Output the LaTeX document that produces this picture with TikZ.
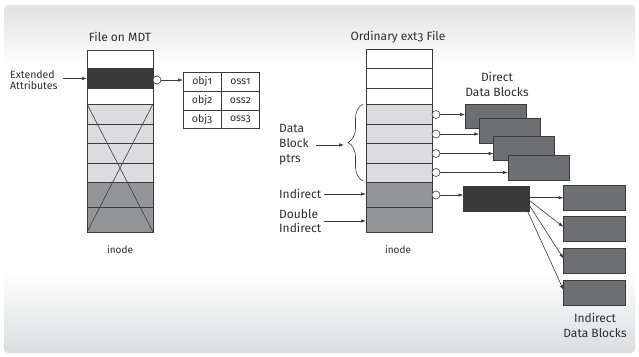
\documentclass[tikz,border=0pt]{standalone}
\usepackage{fontspec}
\setmainfont{Fira Sans}[Numbers=OldStyle]
\usetikzlibrary{arrows.meta,decorations.pathreplacing}
\definecolor{linec}{HTML}{3A3A3A}
\definecolor{txtc}{HTML}{2E2E2E}
\definecolor{lightrow}{HTML}{DCDCDE}
\definecolor{midrow}{HTML}{949598}
\definecolor{darkblk}{HTML}{3A3A3A}
\definecolor{blockc}{HTML}{6E6F72}
\definecolor{bgtop}{HTML}{E2E2E2}
\definecolor{bgbot}{HTML}{DCDDDF}
\pgfdeclareverticalshading{panel}{100bp}{color(0bp)=(bgbot); color(25bp)=(bgbot); color(37bp)=(white); color(66bp)=(white); color(75bp)=(bgtop); color(100bp)=(bgtop)}
\begin{document}
\begin{tikzpicture}[x=1pt,y=-1pt,
  cell/.style={draw=linec, line width=0.5pt, anchor=north west, inner sep=0pt, outer sep=0pt, minimum width=66pt},
  dot/.style={circle, draw=linec, fill=white, minimum size=8pt, inner sep=0pt, line width=0.6pt},
  conn/.style={-{Latex[length=5pt,width=3.5pt]}, line width=0.6pt, draw=linec},
  tcell/.style={draw=linec, line width=0.6pt, anchor=north west, inner sep=0pt, outer sep=0pt, minimum width=38.3pt, minimum height=18.9pt, font=\fontsize{10.5}{12}\selectfont, text=txtc},
  dblk/.style={draw=linec, fill=blockc, line width=0.6pt, anchor=north west, inner sep=0pt, outer sep=0pt, minimum width=61pt, minimum height=24.5pt},
  lbl/.style={inner sep=0pt, text=txtc, font=\fontsize{12}{15}\selectfont},
  smlbl/.style={inner sep=0pt, text=txtc, font=\fontsize{10.5}{10.5}\selectfont}]
\useasboundingbox (0,0) rectangle (639,356);
\shade[shading=panel, rounded corners=4pt] (4,5) rectangle (635,353);

% ---------- left inode (File on MDT)
\node[cell,fill=white,minimum height=18pt] (la) at (87,50) {};
\node[cell,fill=darkblk,minimum height=21pt] (lb) at (87,68) {};
\node[cell,fill=white,minimum height=15pt,draw=none] (lc) at (87,89) {};
\node[cell,fill=lightrow,minimum height=20pt] (ld) at (87,104) {};
\node[cell,fill=lightrow,minimum height=19pt] (le) at (87,124) {};
\node[cell,fill=lightrow,minimum height=20pt] (lf) at (87,143) {};
\node[cell,fill=lightrow,minimum height=19pt] (lg) at (87,163) {};
\node[cell,fill=midrow,minimum height=25pt] (lh) at (87,182) {};
\node[cell,fill=midrow,minimum height=25pt] (li) at (87,207) {};
\draw[line width=0.6pt, linec] (ld.north west) -- (li.south east);
\draw[line width=0.6pt, linec] (ld.north east) -- (li.south west);
\draw[line width=0.9pt, linec] (la.north west) rectangle (li.south east);
\node[lbl] (ltitle) at (120,37) {File on MDT};
\node[lbl, font=\fontsize{10}{12}\selectfont] (linode) at (120,250) {inode};

\node[smlbl, anchor=west, align=left] (ea) at (10,80) {Extended\\Attributes};
\draw[conn, shorten <=5pt] (ea.east |- lb.west) -- (lb.west);
\node[dot] (ca) at (157,80) {};

% table
\node[tcell] (t11) at (183,72) {obj1};
\node[tcell] (t12) at (221.3,72) {oss1};
\node[tcell] (t21) at (183,90.9) {obj2};
\node[tcell] (t22) at (221.3,90.9) {oss2};
\node[tcell] (t31) at (183,109.8) {obj3};
\node[tcell] (t32) at (221.3,109.8) {oss3};
\draw[conn] (ca.east) -- (ca.east -| t11.west);

% ---------- right inode (Ordinary ext3 File)
\node[cell,fill=white,minimum height=19pt] (ra) at (366,49.5) {};
\node[cell,fill=white,minimum height=19.5pt] (rb) at (366,68.5) {};
\node[cell,fill=white,minimum height=16pt] (rc) at (366,88) {};
\node[cell,fill=lightrow,minimum height=20pt] (rd) at (366,104) {};
\node[cell,fill=lightrow,minimum height=19pt] (re) at (366,124) {};
\node[cell,fill=lightrow,minimum height=20pt] (rf) at (366,143) {};
\node[cell,fill=lightrow,minimum height=19pt] (rg) at (366,163) {};
\node[cell,fill=midrow,minimum height=25pt] (rh) at (366,182) {};
\node[cell,fill=midrow,minimum height=25pt] (ri) at (366,207) {};
\draw[line width=0.9pt, linec] (ra.north west) rectangle (ri.south east);
\node[lbl] (rtitle) at (398,37) {Ordinary ext3 File};
\node[lbl, font=\fontsize{10}{12}\selectfont] (rinode) at (398,250) {inode};

% brace and left labels
\draw[line width=0.6pt, linec, decorate, decoration={brace, amplitude=15pt}] (363,181) -- (363,104);
\coordinate (btip) at (344,142.5);
\node[lbl, anchor=west, align=left] (dbp) at (279,145) {Data\\Block\\ptrs};
\draw[conn, shorten <=7pt] (dbp.east) -- (dbp.east -| btip);
\node[lbl, anchor=west] (ind) at (279,194) {Indirect};
\draw[conn, shorten <=3pt] (ind.east) -- (ind.east -| rh.west);
\node[lbl, anchor=west, align=left, font=\fontsize{12}{14}\selectfont] (dind) at (279,221) {Double\\Indirect};
\draw[conn, shorten <=3pt] (dind.east) -- (dind.east -| ri.west);

% circles on right inode
\node[dot] (cd) at (436,114.5) {};
\node[dot] (ce) at (436,134) {};
\node[dot] (cf) at (436,153.5) {};
\node[dot] (cg) at (436,172.5) {};
\node[dot] (ch) at (436,195) {};

% direct data blocks
\node[dblk] (d1) at (465,104) {};
\node[dblk] (d2) at (479.3,118.5) {};
\node[dblk] (d3) at (493.5,136) {};
\node[dblk] (d4) at (507.8,155.5) {};
\draw[conn] (cd.east) -- (cd.east -| d1.west);
\draw[conn] (ce.east) -- (ce.east -| d2.west);
\draw[conn] (cf.east) -- (cf.east -| d3.west);
\draw[conn] (cg.east) -- (cg.east -| d4.west);
\node[lbl, align=center] (dlab) at (497,84) {Direct\\Data Blocks};

% indirect block and indirect data blocks
\node[dblk, fill=darkblk, minimum width=66pt, minimum height=25pt] (ib) at (463.5,186) {};
\draw[conn] (ch.east) -- (ch.east -| ib.west);
\node[dblk, minimum width=61.5pt, minimum height=25.5pt] (e1) at (563.5,185) {};
\node[dblk, minimum width=61.5pt, minimum height=25pt] (e2) at (563.5,216.5) {};
\node[dblk, minimum width=61.5pt, minimum height=25pt] (e3) at (563.5,248.5) {};
\node[dblk, minimum width=61.5pt, minimum height=25pt] (e4) at (563.5,280.5) {};
\draw[conn] (ib.east |- e1.west) -- (e1.west);
\coordinate (f2) at ([yshift=-2pt]ib.east);
\coordinate (f3) at ([yshift=-7pt]ib.east);
\coordinate (f4) at ([xshift=-2pt]ib.south east);
\draw[conn] (f2) -- ([yshift=2pt]e2.west);
\draw[conn] (f3) -- ([yshift=2.5pt]e3.west);
\draw[conn] (f4) -- ([yshift=3pt]e4.west);
\node[lbl, align=center] (ilab) at (595,325) {Indirect\\Data Blocks};
\end{tikzpicture}
\end{document}
